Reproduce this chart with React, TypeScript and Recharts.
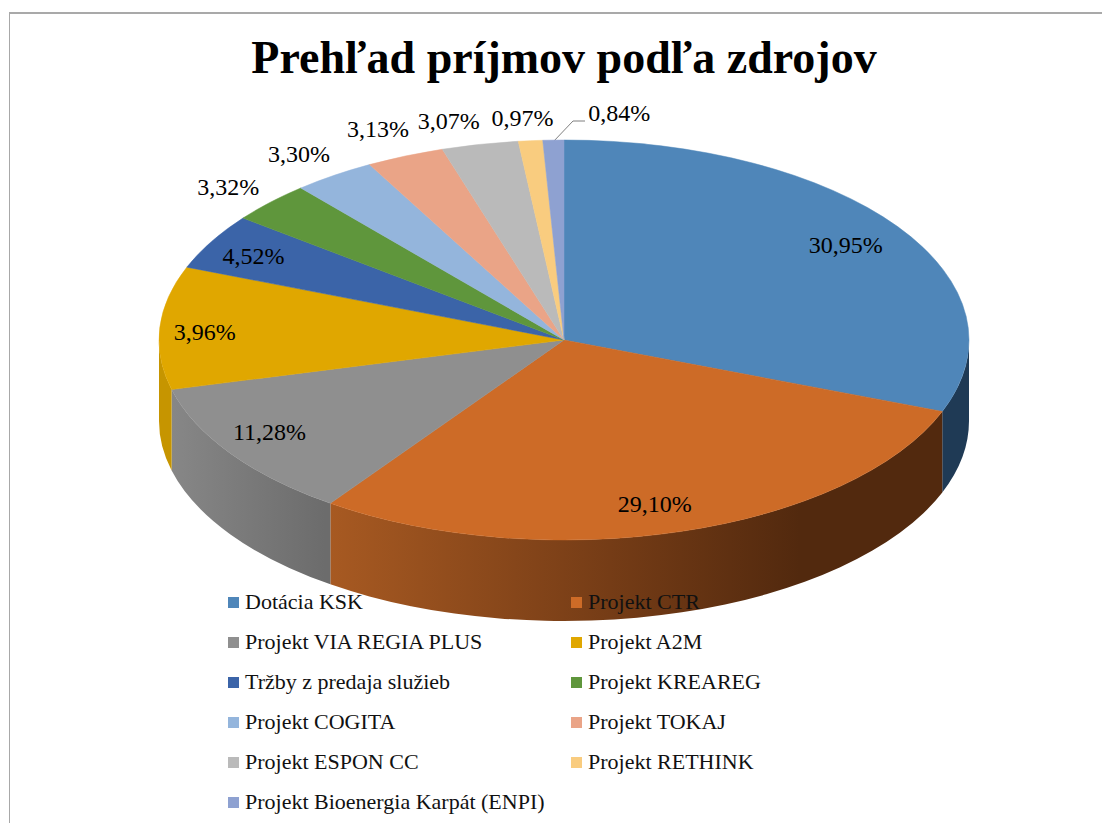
import { Cell, Legend, Pie, PieChart } from 'recharts';

const categories = [
  'Dotácia KSK',
  'Projekt CTR',
  'Projekt VIA REGIA PLUS',
  'Projekt A2M',
  'Tržby z predaja služieb',
  'Projekt KREAREG',
  'Projekt COGITA',
  'Projekt TOKAJ',
  'Projekt ESPON CC',
  'Projekt RETHINK',
  'Projekt Bioenergia Karpát (ENPI)',
];
const values = [30.95, 29.1, 11.28, 9.96, 4.52, 3.32, 3.3, 3.13, 3.07, 0.97, 0.84];
const labels = ['30,95%', '29,10%', '11,28%', '3,96%', '4,52%', '3,32%', '3,30%', '3,13%', '3,07%', '0,97%', '0,84%'];
const colors = ['#4f86b9', '#cd6b27', '#8f8f8f', '#e0a700', '#3b64a8', '#5f963c', '#94b5dc', '#eaa487', '#bababa', '#f9cc7f', '#8ea1d1'];
const wallFills = ['#1f3a55', 'url(#wallCtr)', 'url(#wallVia)', '#c69500', '#3b64a8', '#5f963c', '#94b5dc', '#eaa487', '#bababa', '#f9cc7f', '#8ea1d1'];
// posun popisku od stredu oblúka
const labelNudge = [[-52, 18], [-27, -27], [39, -21], [45, 4], [42, 14], [-42, -15], [-35, -21], [-27, -27], [-31, -23], [-8, -23], [66, -27]];

const tableData = categories.map((name, i) => ({ name, value: values[i], label: labels[i] }));

const CX = 564;
const CY = 340;
const RX = 405;
const RY = 200;
const DEPTH = 81;
const FONT = '"Liberation Serif", serif';

// uhol Rechartsu (90 = hore, proti smeru hodín) na bod elipsy
const pt = (angle: number, dy = 0) => {
  const r = (angle * Math.PI) / 180;
  return [CX + RX * Math.cos(r), CY - RY * Math.sin(r) + dy];
};

const TopSlice = (props: any) => {
  const { startAngle, endAngle, fill } = props;
  const [x1, y1] = pt(startAngle);
  const [x2, y2] = pt(endAngle);
  const large = Math.abs(endAngle - startAngle) > 180 ? 1 : 0;
  return <path d={`M${CX},${CY}L${x1},${y1}A${RX},${RY} 0 ${large} 1 ${x2},${y2}Z`} fill={fill} stroke={fill} strokeWidth={0.5} />;
};

const WallSlice = (props: any) => {
  const { startAngle, endAngle, fill } = props;
  // predná stena je viditeľná len medzi 0 a -180 stupňami
  const a = Math.min(startAngle, 0);
  const b = Math.max(endAngle, -180);
  if (a <= b) return null;
  const [x1, y1] = pt(a);
  const [x2, y2] = pt(b);
  const [x3, y3] = pt(b, DEPTH);
  const [x4, y4] = pt(a, DEPTH);
  return <path d={`M${x1},${y1}A${RX},${RY} 0 0 1 ${x2},${y2}L${x3},${y3}A${RX},${RY} 0 0 0 ${x4},${y4}Z`} fill={fill} />;
};

const renderLabel = (props: any) => {
  const { midAngle, index } = props;
  const [x, y] = pt(midAngle);
  const [dx, dy] = labelNudge[index];
  return (
    <text x={x + dx} y={y + dy} textAnchor="middle" dominantBaseline="central" fontFamily={FONT} fontSize={24} fill="#000">
      {labels[index]}
    </text>
  );
};

const LegendGrid = () => (
  <div style={{ display: 'grid', gridTemplateColumns: '343px 343px', gridAutoRows: '40px', fontFamily: FONT, fontSize: 22, color: '#111' }}>
    {categories.map((name, i) => (
      <div key={name} style={{ display: 'flex', alignItems: 'center', height: 40, whiteSpace: 'nowrap' }}>
        <span style={{ width: 11, height: 11, background: colors[i], marginRight: 6, flex: 'none' }} />
        {name}
      </div>
    ))}
  </div>
);

export default function App() {
  return (
    <div style={{ position: 'absolute', left: 0, top: 0, width: 1102, height: 823 }}>
      <PieChart width={1102} height={823} margin={{ top: 0, right: 0, bottom: 0, left: 0 }} style={{ background: '#fff' }}>
        <defs>
          <linearGradient id="wallCtr" gradientUnits="userSpaceOnUse" x1={325} y1={0} x2={800} y2={0}>
            <stop offset="0" stopColor="#a85a22" />
            <stop offset="0.6" stopColor="#753c16" />
            <stop offset="1" stopColor="#52290e" />
          </linearGradient>
          <linearGradient id="wallVia" gradientUnits="userSpaceOnUse" x1={170} y1={0} x2={325} y2={0}>
            <stop offset="0" stopColor="#878787" />
            <stop offset="1" stopColor="#6c6c6c" />
          </linearGradient>
        </defs>
        <line x1={9} y1={13} x2={1102} y2={13} stroke="#8c8c8c" strokeWidth={1.5} />
        <line x1={9.5} y1={13} x2={9.5} y2={823} stroke="#a8a8a8" strokeWidth={1} />
        <text x={564} y={73} textAnchor="middle" fontFamily={FONT} fontWeight="bold" fontSize={46} fill="#000">
          Prehľad príjmov podľa zdrojov
        </text>
        <Pie
          data={tableData}
          dataKey="value"
          nameKey="name"
          cx={CX}
          cy={CY}
          outerRadius={RX}
          startAngle={90}
          endAngle={-270}
          stroke="none"
          legendType="none"
          shape={WallSlice}
          label={false}
          labelLine={false}
          isAnimationActive={false}
        >
          {wallFills.map((c, i) => <Cell key={i} fill={c} />)}
        </Pie>
        <Pie
          data={tableData}
          dataKey="value"
          nameKey="name"
          cx={CX}
          cy={CY}
          outerRadius={RX}
          startAngle={90}
          endAngle={-270}
          stroke="none"
          shape={TopSlice}
          label={renderLabel}
          labelLine={false}
          isAnimationActive={false}
        >
          {colors.map((c, i) => <Cell key={i} fill={c} />)}
        </Pie>
        <polyline points="553,142 573,121 585,121" fill="none" stroke="#7f7f7f" strokeWidth={1} />
        <Legend content={<LegendGrid />} layout="vertical" wrapperStyle={{ position: 'absolute', left: 228, top: 582, width: 700 }} />
      </PieChart>
    </div>
  );
}
